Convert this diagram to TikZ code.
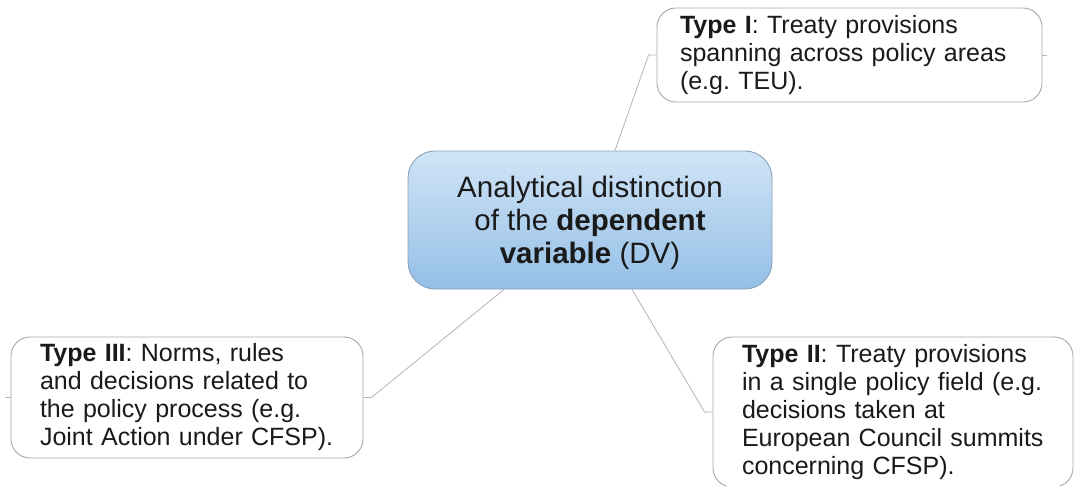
\documentclass[tikz,border=0pt]{standalone}
\usepackage{fontspec}
\setmainfont{Liberation Sans}
\usetikzlibrary{calc}
\frenchspacing
\definecolor{txt}{RGB}{26,26,26}
\definecolor{boxline}{RGB}{168,168,168}
\definecolor{linkline}{RGB}{180,180,180}
\definecolor{hubtop}{RGB}{208,228,246}
\definecolor{hubbot}{RGB}{148,191,230}
\definecolor{hubline}{RGB}{135,162,190}
\tikzset{
  hub/.style={draw=hubline, line width=0.9pt, rounded corners=27pt,
    top color=hubtop, bottom color=hubbot, inner sep=0pt},
  hubtext/.style={text=txt, align=center,
    font=\fontsize{29.5}{33}\selectfont, inner sep=0pt},
  leaf/.style={draw=boxline, line width=0.9pt, rounded corners=19pt,
    fill=white, text=txt, align=left,
    font=\fontsize{25}{28}\selectfont, inner ysep=0pt},
  link/.style={draw=linkline, line width=0.8pt}
}
\begin{document}
\begin{tikzpicture}[x=1pt,y=-1pt]
  \useasboundingbox (0,0) rectangle (1074,485);
  \clip (0,0) rectangle (1074,485);
  \fill[white] (0,0) rectangle (1074,485);

  % central topic: shaded box and its text
  \node[hub, minimum width=364pt, minimum height=138pt] (c) at (590,220) {};
  \node[hubtext] (ctext) at ($(c.center)+(0,3)$)
    {Analytical distinction\\of the \textbf{dependent}\\\textbf{variable} (DV)};

  % three branches
  \node[leaf, minimum width=385pt, minimum height=94pt, text width=339pt,
        inner xsep=23pt] (t1) at (849.5,55)
    {\textbf{Type I}: Treaty provisions\\spanning across policy areas\\(e.g. TEU).};
  \node[leaf, minimum width=352pt, minimum height=121pt, text width=294pt,
        inner xsep=29pt] (t3) at (187,397.5)
    {\textbf{Type III}: Norms, rules\\and decisions related to\\the policy process (e.g.\\Joint Action under CFSP).};
  \node[leaf, minimum width=360pt, minimum height=150pt, text width=302pt,
        inner xsep=29pt] (t2) at (893,412)
    {\textbf{Type II}: Treaty provisions\\in a single policy field (e.g.\\decisions taken at\\European Council summits\\concerning CFSP).};

  % connectors from the central topic
  \draw[link] ($(c.north)+(25,0)$) -- ($(t1.west)+(-8,0)$) -- (t1.west);
  \draw[link] ($(c.south)+(-86,0)$) -- ($(t3.east)+(8,0)$) -- (t3.east);
  \draw[link] ($(c.south)+(42,0)$) -- ($(t2.west)+(-8,0)$) -- (t2.west);

  % short stubs on the outer sides
  \draw[link] (t1.east) -- +(5,0);
  \draw[link] (t3.west) -- +(-6,0);
\end{tikzpicture}
\end{document}
